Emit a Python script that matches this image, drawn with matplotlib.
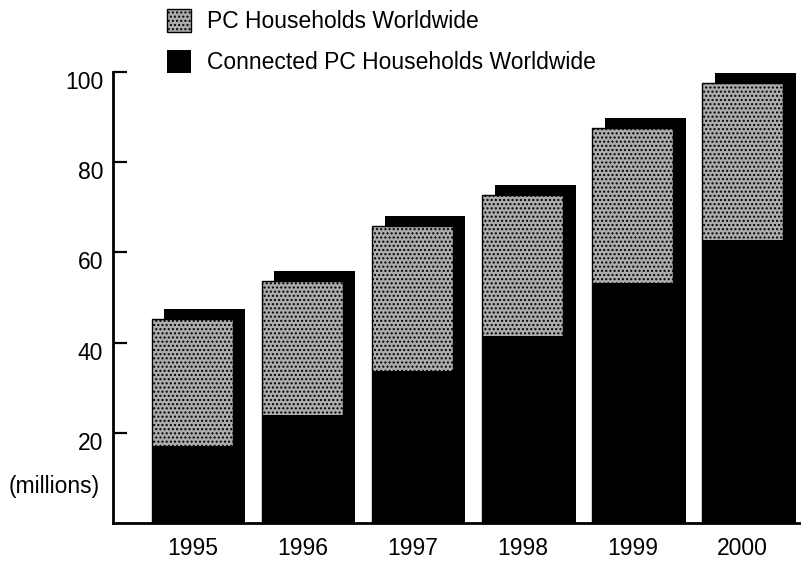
import matplotlib
matplotlib.use("Agg")
import matplotlib.pyplot as plt
from matplotlib.patches import Patch
from matplotlib.transforms import ScaledTranslation
import numpy as np

plt.rcParams['font.family'] = ['Liberation Sans', 'DejaVu Sans']

years = ['1995', '1996', '1997', '1998', '1999', '2000']
pc_households = [45.2, 53.7, 65.9, 72.7, 87.6, 97.6]
connected = [17.1, 23.9, 33.7, 41.5, 53.2, 62.7]
y_ticks = [20, 40, 60, 80, 100]

gray = '#acacac'
W, H = 801, 563
fig = plt.figure(figsize=(W / 100, H / 100), dpi=100)
ax = fig.add_axes([113 / W, 40 / H, (W - 113) / W, 451 / H])

x = np.arange(len(years))
width = 0.735
dx, dy = 0.114, 2.2   # drop shadow offset

# black drop shadow behind each bar
ax.bar(x + dx, np.array(pc_households) + dy, width, color='black',
       linewidth=0, clip_on=False, zorder=1)
# total PC households (gray) with connected share (black) at the bottom
ax.bar(x, pc_households, width, color=gray, edgecolor='black',
       linewidth=1, hatch='....', zorder=2)
ax.bar(x, connected, width, color='black', linewidth=0, zorder=3)

ax.set_xlim(-0.72, 5.53)
ax.set_ylim(0, 100)

for s in ['top', 'right']:
    ax.spines[s].set_visible(False)
ax.spines['left'].set_linewidth(2)
ax.spines['bottom'].set_linewidth(2)

ax.set_xticks(x, years)
ax.tick_params(axis='x', length=0, pad=10, labelsize=16.5)
ax.set_yticks(y_ticks)
ax.tick_params(axis='y', direction='in', length=10, width=1.6,
               pad=7, labelsize=16.5)
# numbers sit a little below their tick marks
shift = ScaledTranslation(0, -8 / 100, fig.dpi_scale_trans)
for lbl in ax.get_yticklabels():
    lbl.set_transform(lbl.get_transform() + shift)

fig.text(100 / W, 1 - 486 / H, '(millions)', ha='right', va='center',
         fontsize=16.5)

handles = [Patch(facecolor=gray, edgecolor='black', hatch='....',
                 label='PC Households Worldwide'),
           Patch(facecolor='black', label='Connected PC Households Worldwide')]
fig.legend(handles=handles, loc='upper left',
           bbox_to_anchor=(167 / W, 1 - 9 / H), frameon=False,
           fontsize=16.5, handlelength=1.05, handleheight=1.2,
           handletextpad=0.7, labelspacing=0.72, borderpad=0,
           borderaxespad=0)

fig.savefig('out.png', dpi=100)
